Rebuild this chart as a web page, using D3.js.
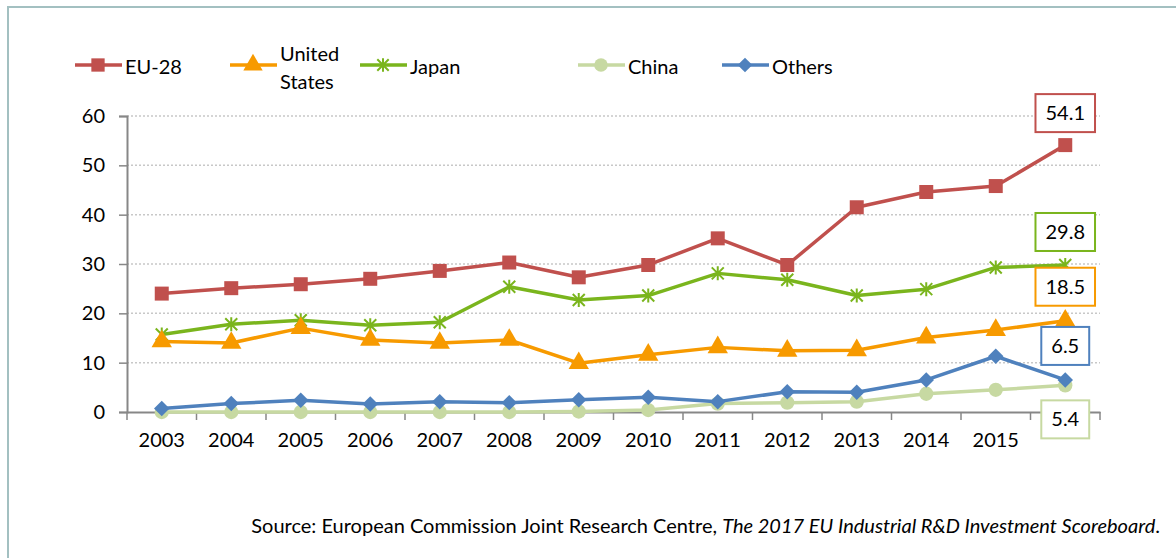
<!DOCTYPE html>
<html>
<head>
<meta charset="utf-8">
<script src="https://cdn.jsdelivr.net/npm/d3@7"></script>
<style>
	body { margin: 0; background: #fff; }
	svg { display: block; font-family: Lato, "Open Sans", sans-serif; }
</style>
</head>
<body>
<div id="chart"></div>
<script>
// categories (last one has no label in the original)
var years = ["2003", "2004", "2005", "2006", "2007", "2008", "2009", "2010", "2011", "2012", "2013", "2014", "2015", ""];
var yTicks = [0, 10, 20, 30, 40, 50, 60];

var eu28 = [24.0, 25.1, 25.9, 27.0, 28.6, 30.3, 27.3, 29.8, 35.2, 29.8, 41.5, 44.6, 45.8, 54.1];
var unitedStates = [14.3, 14.0, 17.0, 14.6, 14.0, 14.6, 9.9, 11.6, 13.1, 12.4, 12.5, 15.1, 16.6, 18.5];
var japan = [15.7, 17.8, 18.6, 17.6, 18.2, 25.4, 22.7, 23.6, 28.1, 26.8, 23.6, 24.9, 29.3, 29.8];
var china = [0.0, 0.0, 0.0, 0.0, 0.0, 0.0, 0.1, 0.4, 1.7, 1.9, 2.1, 3.7, 4.5, 5.4];
var others = [0.7, 1.7, 2.4, 1.6, 2.1, 1.9, 2.5, 3.0, 2.1, 4.1, 4.0, 6.5, 11.3, 6.5];

var seriesNames = ["EU-28", "United States", "Japan", "China", "Others"];
var seriesValues = [eu28, unitedStates, japan, china, others];
var colors = ["#c0504d", "#f79a00", "#7ab51d", "#c7d9a2", "#4f81bd"];
var markers = ["square", "triangle", "star", "circle", "diamond"];

var width = 1176, height = 558;
var margin = {left: 127, right: 76, top: 116, bottom: 146};

var svg = d3.select("#chart")
	.append("svg")
	.attr("width", width)
	.attr("height", height);

// outer frame
svg.append("rect")
	.attr("x", 8)
	.attr("y", 7)
	.attr("width", width + 10)
	.attr("height", height + 10)
	.attr("fill", "none")
	.attr("stroke", "#a3c0c1")
	.attr("stroke-width", 2);

var x = d3.scaleBand()
	.domain(years)
	.range([margin.left, width - margin.right]);

var y = d3.scaleLinear()
	.domain([0, 60])
	.range([height - margin.bottom, margin.top]);

var px = function(i) { return x(years[i]) + x.bandwidth() / 2; };

// dotted grid lines
svg.append("g")
	.selectAll("line")
	.data(yTicks.slice(1))
	.enter().append("line")
	.attr("x1", margin.left)
	.attr("x2", width - margin.right)
	.attr("y1", function(d) { return y(d); })
	.attr("y2", function(d) { return y(d); })
	.attr("stroke", "#c8c8c8")
	.attr("stroke-width", 1.5)
	.attr("stroke-dasharray", "2,2");

// y axis
var yAxis = svg.append("g")
	.attr("transform", "translate(" + margin.left + ",0)")
	.call(d3.axisLeft(y).tickValues(yTicks).tickSize(8).tickPadding(14));
yAxis.select(".domain").attr("stroke", "#878787").attr("stroke-width", 2);
yAxis.selectAll(".tick line").attr("stroke", "#878787").attr("stroke-width", 1.5);
yAxis.selectAll(".tick text").attr("font-size", 20).attr("font-family", "Lato").attr("fill", "#000");

// x axis, tick marks between categories like the original
var xAxis = svg.append("g")
	.attr("transform", "translate(0," + y(0) + ")")
	.call(d3.axisBottom(x).tickSize(0).tickPadding(21));
xAxis.select(".domain").attr("stroke", "#878787").attr("stroke-width", 2);
xAxis.selectAll(".tick text").attr("font-size", 20).attr("font-family", "Lato").attr("fill", "#000");
xAxis.selectAll(".between")
	.data(years.map(function(d) { return x(d); }).concat([width - margin.right]))
	.enter().append("line")
	.attr("class", "between")
	.attr("x1", function(d) { return d; })
	.attr("x2", function(d) { return d; })
	.attr("y1", 0)
	.attr("y2", 8)
	.attr("stroke", "#878787")
	.attr("stroke-width", 1.5);

function drawMarker(g, kind, color, cx, cy, s) {
	if (kind == "star") {
		var r = 6 * s;
		g.append("path")
			.attr("transform", "translate(" + cx + "," + cy + ")")
			.attr("d", "M" + (-r) + "," + (-r) + "L" + r + "," + r + "M" + (-r) + "," + r + "L" + r + "," + (-r) + "M0," + (-r - 1) + "L0," + (r + 1))
			.attr("stroke", color)
			.attr("stroke-width", 2)
			.attr("fill", "none");
		return;
	}
	var sym = {square: d3.symbolSquare, triangle: d3.symbolTriangle, circle: d3.symbolCircle, diamond: d3.symbolSquare}[kind];
	var size = {square: 196, triangle: 180, circle: 160, diamond: 120}[kind] * s * s;
	g.append("path")
		.attr("transform", "translate(" + cx + "," + cy + ")" + (kind == "diamond" ? " rotate(45)" : ""))
		.attr("d", d3.symbol().type(sym).size(size)())
		.attr("fill", color);
}

// draw order: China, Japan, EU, US, Others on top
var drawOrder = [3, 2, 0, 1, 4];
var line = d3.line()
	.x(function(d, i) { return px(i); })
	.y(function(d) { return y(d); });

drawOrder.forEach(function(k) {
	var g = svg.append("g");
	g.append("path")
		.attr("d", line(seriesValues[k]))
		.attr("fill", "none")
		.attr("stroke", colors[k])
		.attr("stroke-width", 3.5)
		.attr("stroke-linejoin", "round");
	seriesValues[k].forEach(function(v, i) {
		drawMarker(g, markers[k], colors[k], px(i), y(v), 1);
	});
});

// end value labels in boxes
var labelDy = [-32, -34, -33, 34, -34];
var fmt = d3.format(".1f");
seriesValues.forEach(function(vals, k) {
	var last = vals.length - 1;
	var cx = px(last), cy = y(vals[last]) + labelDy[k];
	var g = svg.append("g");
	var box = g.append("rect");
	var t = g.append("text")
		.attr("x", cx)
		.attr("y", cy)
		.attr("dy", "0.35em")
		.attr("text-anchor", "middle")
		.attr("font-size", 20)
		.text(fmt(vals[last]));
	var w = t.node().getComputedTextLength() + 20;
	box.attr("x", cx - w / 2)
		.attr("y", cy - 19)
		.attr("width", w)
		.attr("height", 38)
		.attr("fill", "#fff")
		.attr("stroke", colors[k])
		.attr("stroke-width", 2);
});

// legend
var legendX = [75, 230, 360, 578, 722];
var legendY = 65;
seriesNames.forEach(function(name, k) {
	var g = svg.append("g");
	g.append("line")
		.attr("x1", legendX[k])
		.attr("x2", legendX[k] + 47)
		.attr("y1", legendY)
		.attr("y2", legendY)
		.attr("stroke", colors[k])
		.attr("stroke-width", 3.5);
	drawMarker(g, markers[k], colors[k], legendX[k] + 23, legendY, 0.95);
	var words = k == 1 ? name.split(" ") : [name];
	g.selectAll("text")
		.data(words)
		.enter().append("text")
		.attr("x", legendX[k] + 50)
		.attr("y", function(d, i) { return words.length == 1 ? legendY + 2 : legendY - 11 + i * 28; })
		.attr("dy", "0.35em")
		.attr("font-size", 20)
		.text(function(d) { return d; });
});

// source note
var src = svg.append("text")
	.attr("x", 1160)
	.attr("y", 533)
	.attr("text-anchor", "end")
	.attr("font-size", 20);
src.append("tspan").text("Source: European Commission Joint Research Centre, ");
src.append("tspan").attr("font-style", "italic").text("The 2017 EU Industrial R&D Investment Scoreboard");
src.append("tspan").text(".");
</script>
</body>
</html>
